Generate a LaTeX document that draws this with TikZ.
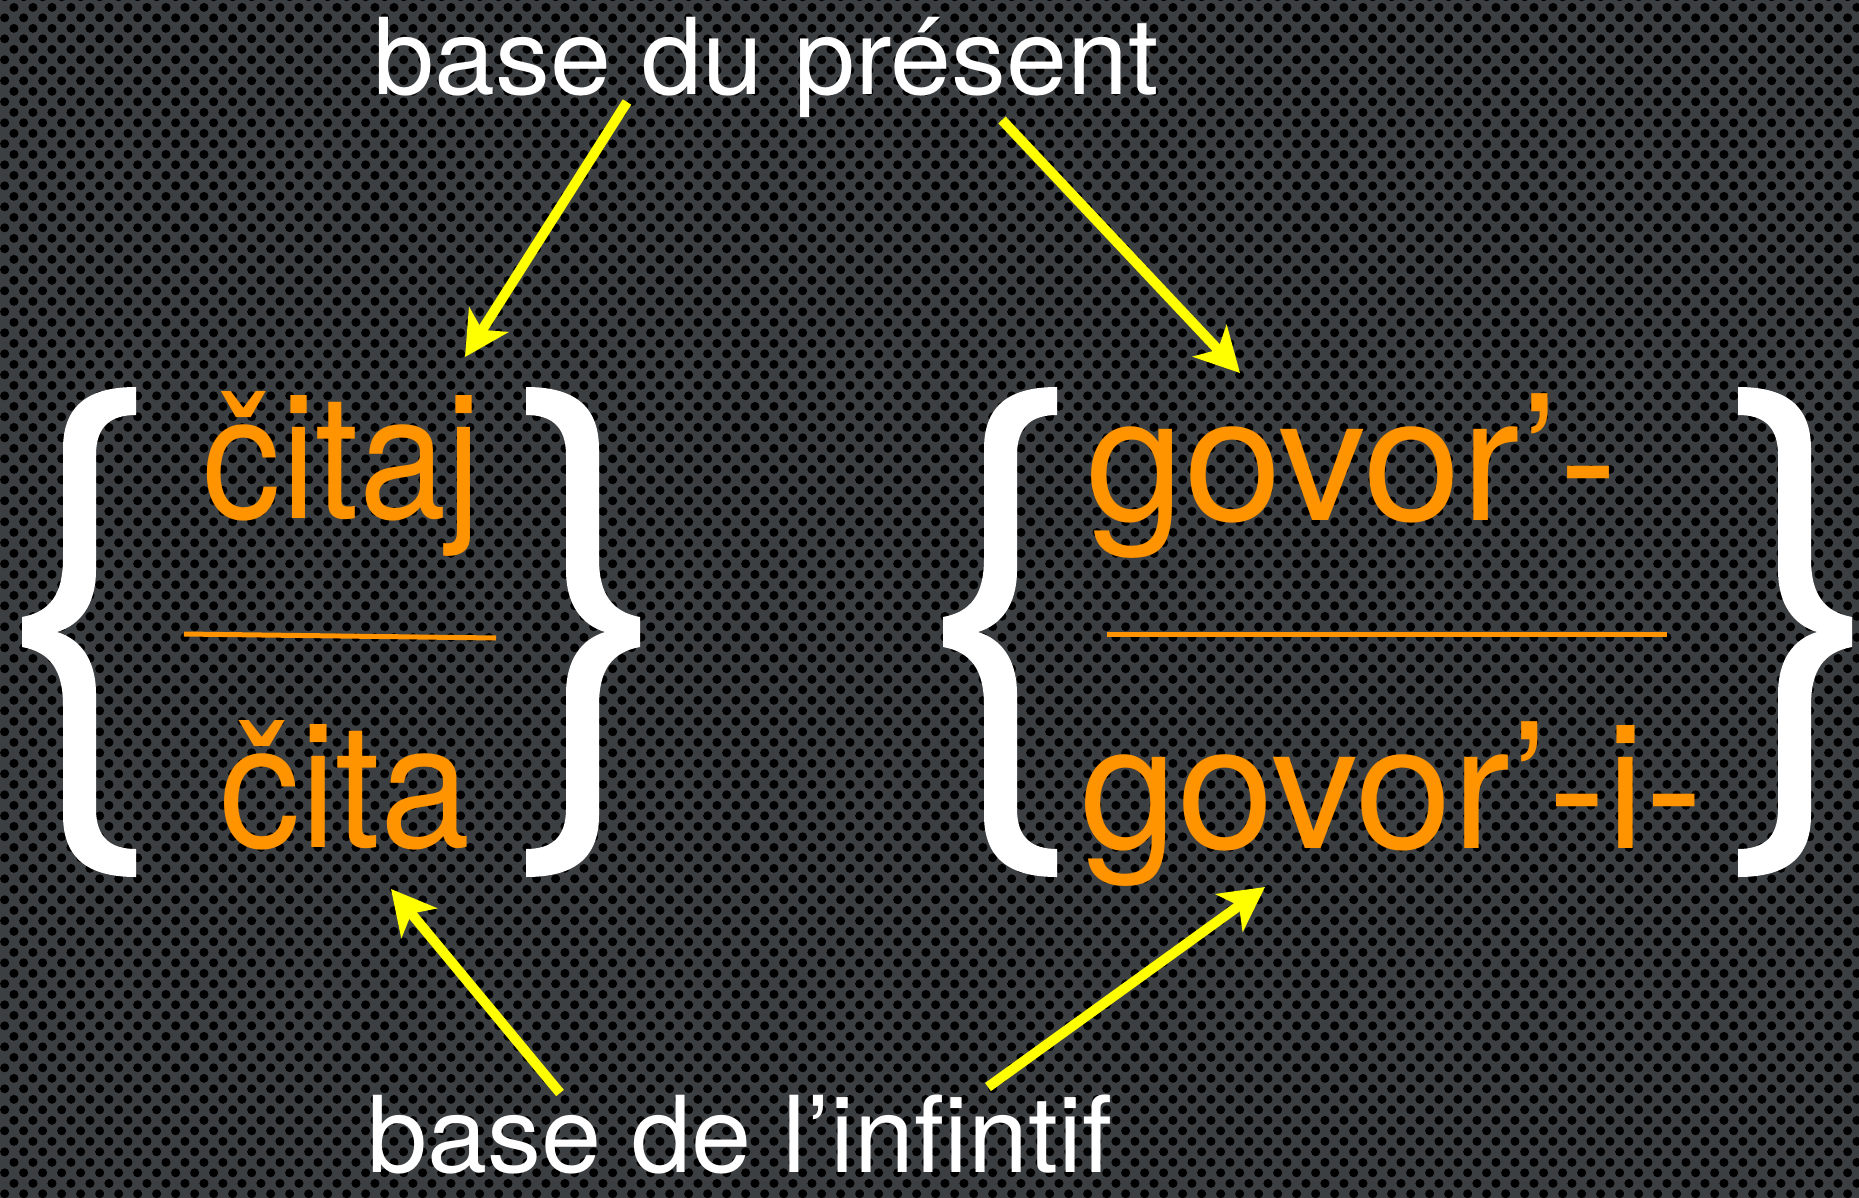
\documentclass[tikz,border=0pt]{standalone}
\usepackage{fontspec}
\setmainfont{TeX Gyre Heros}
\usepackage{graphicx}
\usetikzlibrary{arrows.meta}
\usetikzlibrary{patterns}

\definecolor{slate}{RGB}{60,63,66}
\definecolor{stemorange}{RGB}{255,147,0}
\definecolor{pointeryellow}{RGB}{255,255,0}

\pgfdeclarepatternformonly{perforated}{\pgfqpoint{0pt}{0pt}}{\pgfqpoint{18.8pt}{21.4pt}}{\pgfqpoint{18.8pt}{21.4pt}}{
 \pgfpathcircle{\pgfqpoint{4.7pt}{5.35pt}}{4.6pt}
 \pgfpathcircle{\pgfqpoint{14.1pt}{16.05pt}}{4.6pt}
 \pgfusepath{fill}
}

\tikzset{
 gloss/.style={text=white, inner sep=0pt, anchor=base, font=\fontsize{106}{110}\selectfont},
 stem/.style={text=stemorange, inner sep=0pt, anchor=base, font=\fontsize{174}{180}\selectfont},
 bar/.style={stemorange, line width=5pt},
 pointer/.style={pointeryellow, line width=10pt, -{Stealth[length=44pt,width=46pt,inset=12pt]}},
 curly/.pic={
  \fill[white] (114,-245) -- (114,-217) .. controls (90,-217) and (74,-207) .. (74,-177) -- (74,-62)
   .. controls (74,-27) and (58,-7) .. (35,0) .. controls (58,7) and (74,27) .. (74,62) -- (74,177)
   .. controls (74,207) and (90,217) .. (114,217) -- (114,245) .. controls (68,245) and (41,228) .. (41,183)
   -- (41,73) .. controls (41,38) and (28,20) .. (0,15) -- (0,-15) .. controls (28,-20) and (41,-38) .. (41,-73)
   -- (41,-183) .. controls (41,-228) and (68,-245) .. (114,-245) -- cycle;
 }
}

\begin{document}
\begin{tikzpicture}[x=1pt, y=-1pt]
\useasboundingbox (0,0) rectangle (1859,1198);
\fill[slate] (0,0) rectangle (1859,1198);
\fill[pattern=perforated, pattern color=black] (0,0) rectangle (1859,1198);

\pic at (22,632) {curly};
\pic[xscale=-1] at (640,632) {curly};
\pic at (943,632) {curly};
\pic[xscale=-1] at (1852,632) {curly};

\node[gloss] (present) at (766,95) {\scalebox{1.035}[1]{base du présent}};
\node[gloss] (infinitif) at (740,1172) {\scalebox{1.02}[1]{base de l’infintif}};

\node[stem] (citaj) at (342,518) {\scalebox{.9}[1]{čitaj}};
\node[stem] (cita) at (345,847) {\scalebox{.93}[1]{čita}};
\node[stem] (govor) at (1352,520) {\scalebox{1.01}[1]{govor’-}};
\node[stem] (govori) at (1392,848) {\scalebox{1}[1]{govor’-i-}};

\draw[bar] (184,634) -- (496,638);
\draw[bar] (1107,634) -- (1667,634);

\coordinate (presA) at (627,102);
\coordinate (citajTip) at (465,357);
\coordinate (presB) at (1002,120);
\coordinate (govorTip) at (1240,373);
\coordinate (infA) at (560,1093);
\coordinate (citaTip) at (391,889);
\coordinate (infB) at (988,1087);
\coordinate (govoriTip) at (1265,887);

\draw[pointer] (presA) -- (citajTip);
\draw[pointer] (presB) -- (govorTip);
\draw[pointer] (infA) -- (citaTip);
\draw[pointer] (infB) -- (govoriTip);
\end{tikzpicture}
\end{document}
